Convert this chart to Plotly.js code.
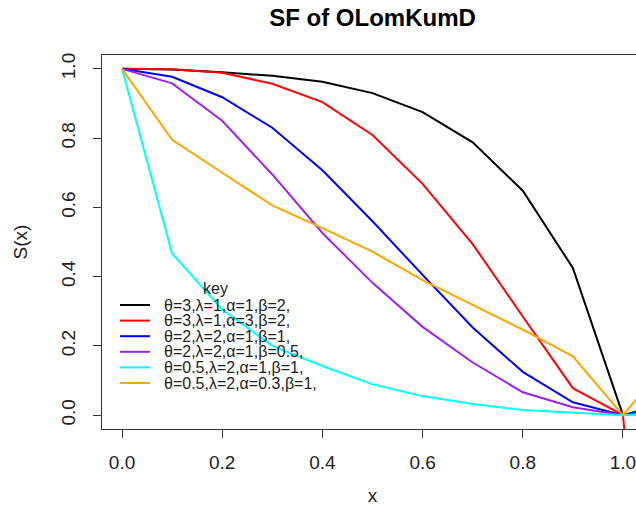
<!DOCTYPE html>
<html>
<head>
<meta charset="utf-8">
<script src="https://cdn.plot.ly/plotly-3.0.1.min.js"></script>
<style>
html, body { margin: 0; padding: 0; overflow: hidden; background: #fff; }
#chart { width: 660px; height: 506px; }
</style>
</head>
<body>
<div id="chart"></div>
<script>
// ---- data ----
const xVals = [0, 0.1, 0.2, 0.3, 0.4, 0.5, 0.6, 0.7, 0.8, 0.9, 1.0, 1.1];
const sBlack  = [1, 0.998, 0.99, 0.98, 0.963, 0.93, 0.875, 0.788, 0.648, 0.425, 0, null];
const sRed    = [1, 0.999, 0.989, 0.957, 0.904, 0.809, 0.668, 0.494, 0.285, 0.078, 0, -1.5];
const sBlue   = [1, 0.977, 0.918, 0.83, 0.707, 0.56, 0.405, 0.253, 0.125, 0.037, 0, 0.04];
const sPurple = [1, 0.958, 0.85, 0.695, 0.526, 0.382, 0.255, 0.152, 0.066, 0.023, 0, 0.02];
const sCyan   = [1, 0.467, 0.305, 0.2, 0.142, 0.089, 0.055, 0.032, 0.015, 0.008, 0, 0.005];
const sOrange = [1, 0.795, 0.70, 0.606, 0.54, 0.472, 0.39, 0.319, 0.247, 0.17, 0, 0.17];

const seriesNames = [
  "θ=3,λ=1,α=1,β=2,",
  "θ=3,λ=1,α=3,β=2,",
  "θ=2,λ=2,α=1,β=1,",
  "θ=2,λ=2,α=1,β=0.5,",
  "θ=0.5,λ=2,α=1,β=1,",
  "θ=0.5,λ=2,α=0.3,β=1,"
];
const seriesColors = ["#000000", "#FF0000", "#0000FF", "#A020F0", "#00FFFF", "#FFA500"];
const seriesValues = [sBlack, sRed, sBlue, sPurple, sCyan, sOrange];
const xTicks = [0, 0.2, 0.4, 0.6, 0.8, 1.0];
const yTicks = [0, 0.2, 0.4, 0.6, 0.8, 1.0];

const FONT = "'Liberation Sans', Arial, Helvetica, sans-serif";

const traces = seriesValues.map((ys, i) => ({
  type: "scatter", mode: "lines", x: xVals, y: ys, name: seriesNames[i],
  line: { color: seriesColors[i], width: 2 }, connectgaps: false, showlegend: false
}));

// plot-area geometry in pixels (for manual legend)
const W = 660, H = 506, L = 102, R = 17, T = 55, B = 77;
const pw = W - L - R, ph = H - T - B;
const px2x = p => (p - L) / pw;
const py2y = p => (H - B - p) / ph;

const shapes = [];
const annotations = [];
const legRow0 = 305, legStep = 15.6;
seriesNames.forEach((nm, i) => {
  const yy = py2y(legRow0 + i * legStep);
  shapes.push({ type: "line", xref: "paper", yref: "paper",
    x0: px2x(120), x1: px2x(150), y0: yy, y1: yy,
    line: { color: seriesColors[i], width: 2 } });
  annotations.push({ xref: "paper", yref: "paper", x: px2x(163), y: yy,
    xanchor: "left", yanchor: "middle", text: nm, showarrow: false, borderpad: 0,
    font: { family: FONT, size: 16, color: "#222" } });
});
annotations.push({ xref: "paper", yref: "paper", x: px2x(215), y: py2y(288),
  xanchor: "center", yanchor: "middle", text: "key", showarrow: false, borderpad: 0,
  font: { family: FONT, size: 16, color: "#222" } });

const layout = {
  width: W, height: H,
  margin: { l: L, r: R, t: T, b: B, pad: 0 },
  paper_bgcolor: "#fff", plot_bgcolor: "#fff",
  font: { family: FONT, size: 19, color: "#222" },
  title: { text: "<b>SF of OLomKumD</b>", font: { family: FONT, size: 24, color: "#000" },
    x: 0.5, xref: "paper", xanchor: "center", y: 1 - 18 / H, yref: "container", yanchor: "middle" },
  xaxis: {
    range: [-0.04, 1.04], tickvals: xTicks, ticktext: xTicks.map(v => v.toFixed(1)),
    ticks: "outside", ticklen: 8, tickwidth: 1, tickcolor: "#333",
    showline: true, mirror: true, linecolor: "#333", linewidth: 1,
    showgrid: false, zeroline: false, ticklabelstandoff: 8,
    tickfont: { family: FONT, size: 19, color: "#222" },
    title: { text: "x", font: { family: FONT, size: 19, color: "#222" }, standoff: 19 }
  },
  yaxis: {
    range: [-0.04, 1.04], tickvals: yTicks, ticktext: yTicks.map(v => v.toFixed(1)),
    ticks: "outside", ticklen: 8, tickwidth: 1, tickcolor: "#333", tickangle: -90,
    showline: true, mirror: true, linecolor: "#333", linewidth: 1,
    showgrid: false, zeroline: false, ticklabelstandoff: 10,
    tickfont: { family: FONT, size: 19, color: "#222" },
    title: { text: "S(x)", font: { family: FONT, size: 19, color: "#222" }, standoff: 25 }
  },
  shapes: shapes,
  annotations: annotations,
  showlegend: false
};

Plotly.newPlot("chart", traces, layout, { displayModeBar: false, staticPlot: true });
</script>
</body>
</html>
